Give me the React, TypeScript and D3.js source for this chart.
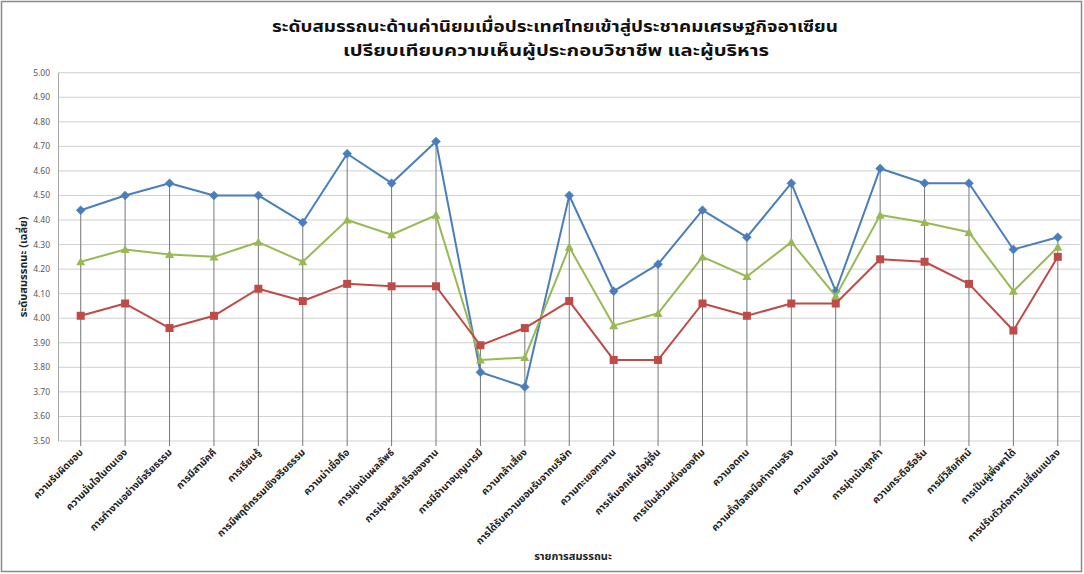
import React from "react";
import * as d3 from "d3";

const categories = [
  "ความรับผิดชอบ",
  "ความมั่นใจในตนเอง",
  "การทำงานอย่างมีจริยธรรม",
  "การมีสามัคคี",
  "การเรียนรู้",
  "การมีพฤติกรรมเชิงจริยธรรม",
  "ความน่าเชื่อถือ",
  "การมุ่งเน้นผลลัพธ์",
  "การมุ่งผลสำเร็จของงาน",
  "การมีอำนาจบุญบารมี",
  "ความกล้าเสี่ยง",
  "การได้รับความยอมรับจากบริษัท",
  "ความทะเยอทะยาน",
  "การเห็นอกเห็นใจผู้อื่น",
  "การเป็นส่วนหนึ่งของทีม",
  "ความอดทน",
  "ความตั้งใจลงมือทำงานจริง",
  "ความนอบน้อม",
  "การมุ่งเน้นลูกค้า",
  "ความกระตือรือร้น",
  "การมีวิสัยทัศน์",
  "การเป็นผู้พึ่งพาได้",
  "การปรับตัวต่อการเปลี่ยนแปลง",
];

const seriesBlue = [4.44, 4.5, 4.55, 4.5, 4.5, 4.39, 4.67, 4.55, 4.72, 3.78, 3.72, 4.5, 4.11, 4.22, 4.44, 4.33, 4.55, 4.11, 4.61, 4.55, 4.55, 4.28, 4.33];
const seriesRed = [4.01, 4.06, 3.96, 4.01, 4.12, 4.07, 4.14, 4.13, 4.13, 3.89, 3.96, 4.07, 3.83, 3.83, 4.06, 4.01, 4.06, 4.06, 4.24, 4.23, 4.14, 3.95, 4.25];
const seriesGreen = [4.23, 4.28, 4.26, 4.25, 4.31, 4.23, 4.4, 4.34, 4.42, 3.83, 3.84, 4.29, 3.97, 4.02, 4.25, 4.17, 4.31, 4.09, 4.42, 4.39, 4.35, 4.11, 4.29];

const yTicks = [3.5, 3.6, 3.7, 3.8, 3.9, 4.0, 4.1, 4.2, 4.3, 4.4, 4.5, 4.6, 4.7, 4.8, 4.9, 5.0];

const titleLine1 = "ระดับสมรรถนะด้านค่านิยมเมื่อประเทศไทยเข้าสู่ประชาคมเศรษฐกิจอาเซียน";
const titleLine2 = "เปรียบเทียบความเห็นผู้ประกอบวิชาชีพ และผู้บริหาร";
const yTitle = "ระดับสมรรถนะ (เฉลี่ย)";
const xTitle = "รายการสมรรถนะ";

const W = 1084;
const H = 574;
const plot = { left: 58.5, right: 1080, top: 72.7, bottom: 441 };
const FONT = "Tahoma, 'Noto Sans Thai', 'Noto Sans', 'DejaVu Sans', sans-serif";

export default function App() {
  const x = d3
    .scaleBand<number>()
    .domain(categories.map((_, i) => i))
    .range([plot.left, plot.right]);
  const cx = (i: number) => (x(i) as number) + x.bandwidth() / 2;
  const y = d3.scaleLinear().domain([3.5, 5.0]).range([plot.bottom, plot.top]);

  const line = d3
    .line<number>()
    .x((_, i) => cx(i))
    .y((d) => y(d));

  const series = [
    { name: "blue", data: seriesBlue, color: "#4A7EBB", marker: "diamond" },
    { name: "green", data: seriesGreen, color: "#98B954", marker: "triangle" },
    { name: "red", data: seriesRed, color: "#BE4B48", marker: "square" },
  ];

  const marker = (type: string, px: number, py: number, color: string, key: string) => {
    if (type === "diamond") {
      const s = 4.5;
      return (
        <path key={key} d={`M${px},${py - s}L${px + s},${py}L${px},${py + s}L${px - s},${py}Z`} fill={color} stroke={color} strokeWidth={0.5} />
      );
    }
    if (type === "square") {
      const s = 4;
      return <rect key={key} x={px - s} y={py - s} width={2 * s} height={2 * s} fill={color} />;
    }
    const s = 4.5;
    return (
      <path key={key} d={`M${px},${py - s}L${px + s},${py + s * 0.8}L${px - s},${py + s * 0.8}Z`} fill={color} />
    );
  };

  const maxVals = categories.map((_, i) => Math.max(seriesBlue[i], seriesRed[i], seriesGreen[i]));

  return (
    <svg
      width={W}
      height={H}
      style={{ position: "absolute", left: 0, top: 0, background: "#fff" }}
      fontFamily={FONT}
    >
      <rect x={0} y={0} width={W} height={H} fill="#fff" />
      <rect x={1.5} y={1.5} width={1080} height={570} fill="none" stroke="#8a8a8a" strokeWidth={1.5} />

      {/* title */}
      <text x={555} y={32} textAnchor="middle" fontSize={16} fontWeight="bold" fill="#111" textLength={566} lengthAdjust="spacingAndGlyphs">
        {titleLine1}
      </text>
      <text x={556} y={56} textAnchor="middle" fontSize={16} fontWeight="bold" fill="#111" textLength={426} lengthAdjust="spacingAndGlyphs">
        {titleLine2}
      </text>

      {/* gridlines */}
      {yTicks.map((t) => (
        <line key={"g" + t} x1={plot.left} x2={plot.right} y1={y(t)} y2={y(t)} stroke="#D0D0D0" strokeWidth={1} />
      ))}
      {/* y axis */}
      <line x1={plot.left} x2={plot.left} y1={plot.top} y2={plot.bottom} stroke="#A6A6A6" />
      {yTicks.map((t) => (
        <text key={"yl" + t} x={50} y={y(t) + 3} textAnchor="end" fontSize={8.5} fill="#595959">
          {d3.format(".2f")(t)}
        </text>
      ))}
      <text
        transform={`translate(27,${(plot.top + plot.bottom) / 2 + 10}) rotate(-90)`}
        textAnchor="middle"
        fontSize={11}
        fontWeight="bold"
        fill="#222"
      >
        {yTitle}
      </text>

      {/* drop lines */}
      {maxVals.map((v, i) => (
        <line key={"d" + i} x1={cx(i)} x2={cx(i)} y1={y(v)} y2={plot.bottom + 5} stroke="#777" strokeWidth={1} />
      ))}

      {/* series */}
      {series.map((s) => (
        <g key={s.name}>
          <path d={line(s.data) as string} fill="none" stroke={s.color} strokeWidth={2} strokeLinejoin="round" />
          {s.data.map((v, i) => marker(s.marker, cx(i), y(v), s.color, s.name + i))}
        </g>
      ))}

      {/* x labels */}
      {categories.map((c, i) => (
        <text
          key={"xl" + i}
          transform={`translate(${cx(i) + 3},${plot.bottom + 12}) rotate(-45)`}
          textAnchor="end"
          fontSize={10}
          fontWeight="bold"
          fill="#222"
        >
          {c}
        </text>
      ))}
      <text x={573} y={560} textAnchor="middle" fontSize={11} fontWeight="bold" fill="#222">
        {xTitle}
      </text>
    </svg>
  );
}
